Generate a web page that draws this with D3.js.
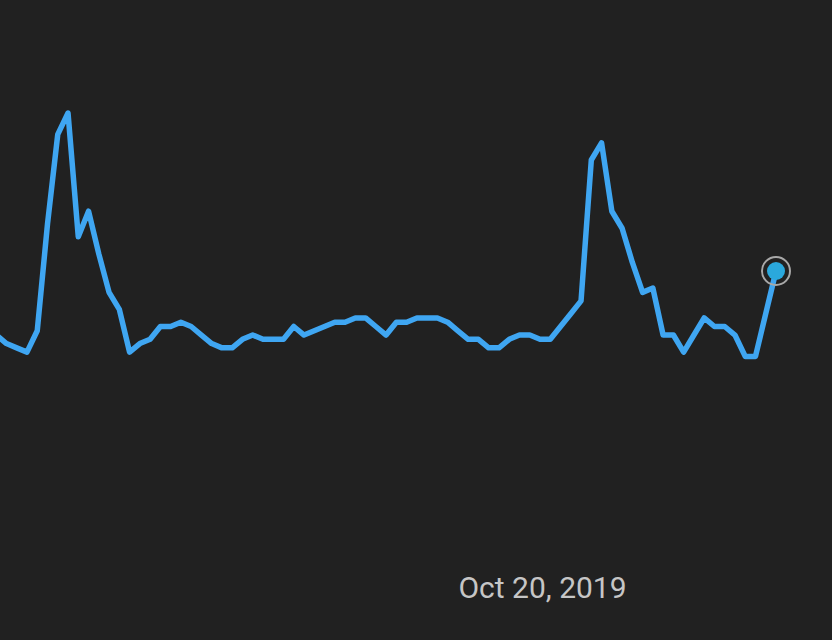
<!DOCTYPE html>
<html>
<head>
<meta charset="utf-8">
<script src="https://cdn.jsdelivr.net/npm/d3@7"></script>
<style>
  html, body { margin: 0; padding: 0; background: #212121; }
  svg { display: block; }
</style>
</head>
<body>
<svg id="chart" width="832" height="640"></svg>
<script>
// Weekly series (Google-Trends-like interest, 0-100), week starting Oct 14, 2018
const startWeek = "2018-10-14";
const values = [
  48, 46, 45, 44, 49, 74, 95, 100, 71, 77,
  67, 58, 54, 44, 46, 47, 50, 50, 51, 50,
  48, 46, 45, 45, 47, 48, 47, 47, 47, 50,
  48, 49, 50, 51, 51, 52, 52, 50, 48, 51,
  51, 52, 52, 52, 51, 49, 47, 47, 45, 45,
  47, 48, 48, 47, 47, 50, 53, 56, 89, 93,
  77, 73, 65, 58, 59, 48, 48, 44, 48, 52,
  50, 50, 48, 43, 43, 53, 63
];
const tickLabels = ["2019-10-20"];

const parse = d3.timeParse("%Y-%m-%d");
const t0 = parse(startWeek);
const data = values.map((v, i) => ({ date: d3.timeWeek.offset(t0, i), value: v }));

const svg = d3.select("#chart");
const W = 832, H = 640;

svg.append("rect").attr("width", W).attr("height", H).attr("fill", "#212121");

const x = d3.scaleTime()
  .domain(d3.extent(data, d => d.date))
  .range([-3.8, 776]);

const y = d3.scaleLinear()
  .domain([0, 100])
  .range([540, 113]);

const line = d3.line()
  .x(d => x(d.date))
  .y(d => y(d.value));

svg.append("path")
  .datum(data)
  .attr("fill", "none")
  .attr("stroke", "#3fa6f2")
  .attr("stroke-width", 5.5)
  .attr("stroke-linejoin", "round")
  .attr("stroke-linecap", "round")
  .attr("d", line);

// end marker
const last = data[data.length - 1];
svg.append("circle")
  .attr("cx", x(last.date))
  .attr("cy", y(last.value))
  .attr("r", 14)
  .attr("fill", "none")
  .attr("stroke", "#a8a8a8")
  .attr("stroke-width", 2);
svg.append("circle")
  .attr("cx", x(last.date))
  .attr("cy", y(last.value))
  .attr("r", 9)
  .attr("fill", "#2aa8dc");

// bottom axis with single labelled date
const axis = d3.axisBottom(x)
  .tickValues(tickLabels.map(parse))
  .tickFormat(d3.timeFormat("%b %-d, %Y"))
  .tickSize(0)
  .tickPadding(0);

const gx = svg.append("g")
  .attr("transform", "translate(2,577)")
  .call(axis);
gx.select(".domain").remove();
gx.selectAll("text")
  .attr("fill", "#c6c6c6")
  .style("font-family", "Roboto, 'Noto Sans', sans-serif")
  .style("font-size", "30px");
</script>
</body>
</html>
